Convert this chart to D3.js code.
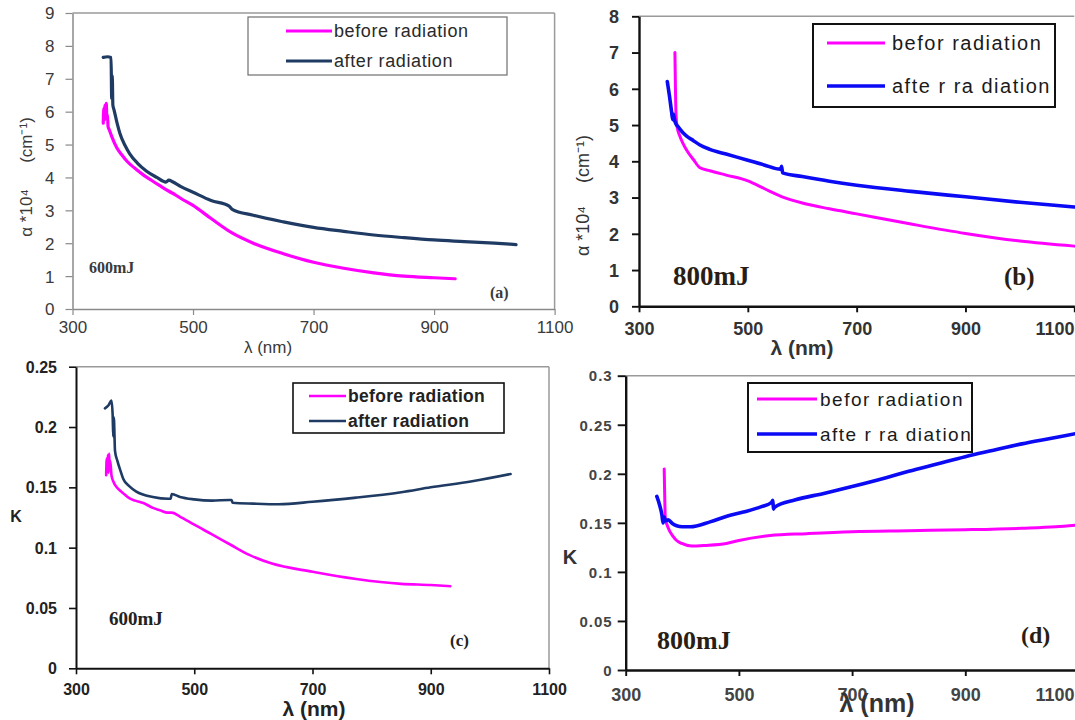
<!DOCTYPE html>
<html>
<head>
<meta charset="utf-8">
<script src="https://cdn.jsdelivr.net/npm/d3@7/dist/d3.min.js"></script>
<style>
  body { margin: 0; background: #fff; }
  svg { display: block; }
</style>
</head>
<body>
<svg id="chart" width="1075" height="720"></svg>
<script>
// ---- Axis ticks ----
const wavelengthTicks = [300, 500, 700, 900, 1100];
const alphaTicks600 = [0, 1, 2, 3, 4, 5, 6, 7, 8, 9];
const alphaTicks800 = [0, 1, 2, 3, 4, 5, 6, 7, 8];
const kTicks600 = [0, 0.05, 0.1, 0.15, 0.2, 0.25];
const kTicks800 = [0, 0.05, 0.1, 0.15, 0.2, 0.25, 0.3];

// ---- Absorption coefficient α (×10⁴ cm⁻¹) vs λ (nm), 600 mJ ----
const alphaBefore600 = [
  [351, 5.65], [352, 6.1], [353, 5.75], [354, 6.2], [355, 5.8], [356, 6.25], [357, 5.85],
  [358, 5.9], [359, 5.55], [361, 5.45], [365, 5.25], [373, 4.92], [382, 4.68], [390, 4.5],
  [404, 4.27], [418, 4.07], [432, 3.9], [445, 3.75], [460, 3.58], [470, 3.48], [480, 3.36],
  [500, 3.15], [530, 2.75], [564, 2.32], [600, 2.0], [650, 1.68], [700, 1.42], [750, 1.24],
  [800, 1.1], [850, 1.0], [900, 0.95], [935, 0.92]
];
const alphaAfter600 = [
  [351, 7.65], [358, 7.67], [364, 7.65], [365, 6.4], [366, 7.1], [367, 6.2], [369, 6.05],
  [374, 5.65], [379, 5.32], [387, 4.98], [395, 4.72], [408, 4.43], [423, 4.19], [440, 4.0],
  [455, 3.86], [460, 3.92], [466, 3.87], [480, 3.72], [500, 3.55], [530, 3.3], [560, 3.13],
  [565, 3.03], [600, 2.85], [650, 2.65], [700, 2.48], [750, 2.36], [800, 2.25], [850, 2.17],
  [900, 2.1], [950, 2.05], [1000, 2.0], [1036, 1.96]
];

// ---- Absorption coefficient α, 800 mJ ----
const alphaBefore800 = [
  [366, 7.0], [367, 6.0], [368, 5.3], [370, 4.95], [375, 4.7], [381, 4.49], [390, 4.25],
  [400, 4.05], [412, 3.82], [430, 3.74], [460, 3.62], [500, 3.46], [530, 3.25], [563, 3.02],
  [600, 2.85], [650, 2.69], [700, 2.55], [800, 2.27], [900, 2.01], [1000, 1.8], [1100, 1.66]
];
const alphaAfter800 = [
  [352, 6.2], [356, 5.8], [360, 5.35], [362, 5.15], [363, 5.3], [366, 5.1], [372, 4.95],
  [380, 4.8], [387, 4.7], [400, 4.57], [412, 4.45], [430, 4.33], [460, 4.2], [500, 4.03],
  [530, 3.9], [560, 3.78], [562, 3.86], [564, 3.68], [600, 3.58], [650, 3.45], [700, 3.34],
  [800, 3.17], [900, 3.02], [1000, 2.87], [1100, 2.74]
];

// ---- Extinction coefficient K vs λ (nm), 600 mJ ----
const kBefore600 = [
  [351, 0.16], [352, 0.174], [353, 0.163], [354, 0.177], [355, 0.162], [356, 0.178],
  [357, 0.166], [358, 0.172], [360, 0.16], [363, 0.155], [366, 0.152], [371, 0.149],
  [380, 0.145], [390, 0.141], [400, 0.139], [414, 0.137], [430, 0.133], [442, 0.131],
  [455, 0.129], [462, 0.129], [475, 0.126], [500, 0.119], [530, 0.111], [563, 0.102],
  [593, 0.094], [630, 0.087], [700, 0.080], [774, 0.074], [850, 0.070], [900, 0.069],
  [933, 0.068]
];
const kAfter600 = [
  [349, 0.2155], [355, 0.218], [360, 0.222], [362, 0.21], [363, 0.192], [364, 0.208],
  [366, 0.18], [370, 0.172], [375, 0.164], [380, 0.157], [390, 0.151], [402, 0.1465],
  [430, 0.142], [456, 0.1405], [460, 0.1405], [462, 0.1445], [476, 0.142], [500, 0.140],
  [530, 0.139], [560, 0.1395], [563, 0.1395], [565, 0.1372], [600, 0.1365], [643, 0.136],
  [700, 0.138], [774, 0.1415], [850, 0.146], [900, 0.150], [970, 0.155], [1035, 0.161]
];

// ---- Extinction coefficient K, 800 mJ ----
const kBefore800 = [
  [368, 0.205], [369, 0.175], [370, 0.155], [375, 0.145], [384, 0.136], [390, 0.132],
  [399, 0.129], [416, 0.1264], [440, 0.127], [478, 0.129], [500, 0.132], [555, 0.137],
  [620, 0.139], [700, 0.141], [800, 0.142], [900, 0.143], [1000, 0.1445], [1060, 0.146],
  [1100, 0.148]
];
const kAfter800 = [
  [355, 0.177], [360, 0.168], [364, 0.158], [366, 0.150], [368, 0.156], [370, 0.152],
  [375, 0.153], [383, 0.149], [390, 0.147], [400, 0.146], [414, 0.146], [449, 0.151],
  [480, 0.157], [508, 0.161], [540, 0.1665], [558, 0.171], [560, 0.173], [561, 0.164],
  [563, 0.166], [600, 0.1735], [650, 0.180], [700, 0.187], [760, 0.196], [800, 0.2025],
  [850, 0.210], [900, 0.2175], [950, 0.224], [1000, 0.2305], [1050, 0.236], [1100, 0.2415]
];

const MAGENTA = "#ff00ff";
const NAVY = "#1f3b63";
const BLUE = "#0a0af5";
const SANS = "'Liberation Sans', Arial, sans-serif";
const SERIF = "'Liberation Serif', 'Times New Roman', serif";
const PAGE_WIDTH = 1075;

const svg = d3.select("#chart");

function addText(g, t, family) {
  const el = g.append("text").attr("fill", t.color).attr("dy", "0.35em")
    .attr("text-anchor", t.anchor || "middle")
    .style("font-family", family).style("font-size", t.font + "px")
    .style("font-weight", t.weight || "normal")
    .style("letter-spacing", (t.spacing || 0) + "px");
  if (t.rotate) el.attr("transform", `translate(${t.x},${t.y}) rotate(-90)`);
  else el.attr("x", t.x).attr("y", t.y);
  el.text(t.text);
  return el;
}

function drawPanel(p) {
  const g = svg.append("g");
  const x = d3.scaleLinear().domain([300, 1100]).range([p.left, p.right]);
  const y = d3.scaleLinear().domain([0, p.yMax]).range([p.bottom, p.top]);

  // plot-area frame (top and right edges)
  g.append("line").attr("x1", p.left).attr("x2", p.right)
    .attr("y1", p.top).attr("y2", p.top)
    .attr("stroke", "#9a9a9a").attr("stroke-width", 1.5);
  if (p.rightFrame) {
    g.append("line").attr("x1", p.right).attr("x2", p.right)
      .attr("y1", p.top).attr("y2", p.bottom)
      .attr("stroke", "#9a9a9a").attr("stroke-width", 1.5);
  }

  // axes
  const xa = g.append("g").attr("transform", `translate(0,${p.bottom})`)
    .call(d3.axisBottom(x).tickValues(wavelengthTicks).tickSize(6).tickSizeOuter(0)
      .tickFormat(d => String(d)));
  const ya = g.append("g").attr("transform", `translate(${p.left},0)`)
    .call(d3.axisLeft(y).tickValues(p.yTicks).tickSize(p.yTickSize || 7).tickSizeOuter(0)
      .tickFormat(d => String(d)));

  [xa, ya].forEach(a => {
    a.select(".domain").attr("stroke", p.axisColor).attr("stroke-width", p.axisWidth);
    a.selectAll(".tick line").attr("stroke", p.axisColor).attr("stroke-width", p.axisWidth * 0.8);
    a.selectAll("text").attr("fill", p.tickColor).style("font-family", SANS)
      .style("font-weight", p.tickWeight);
  });
  xa.selectAll("text").attr("y", p.xLabelOffset).attr("dy", "0.35em")
    .style("font-size", p.xTickFont + "px");
  // keep the last wavelength label inside the page when the axis runs to its edge
  if (p.clampLastLabel) {
    xa.selectAll(".tick").filter(d => d === 1100).select("text")
      .attr("text-anchor", "end").attr("x", PAGE_WIDTH - 1 - x(1100));
  }
  ya.selectAll("text").attr("x", -p.yLabelOffset).attr("dy", "0.35em")
    .style("font-size", p.yTickFont + "px").style("letter-spacing", (p.yTickSpacing || 0) + "px");

  // data lines
  const line = d3.line().x(d => x(d[0])).y(d => y(d[1])).curve(d3.curveMonotoneX);
  p.series.forEach(s => {
    g.append("path").datum(s.data).attr("d", line)
      .attr("fill", "none").attr("stroke", s.color)
      .attr("stroke-width", s.width).attr("stroke-linejoin", "round").attr("stroke-linecap", "round");
  });

  // legend
  const L = p.legend;
  g.append("rect").attr("x", L.x).attr("y", L.y).attr("width", L.w).attr("height", L.h)
    .attr("fill", "#fff").attr("stroke", L.border).attr("stroke-width", L.borderWidth);
  p.series.forEach((s, i) => {
    const ry = L.rows[i];
    g.append("line").attr("x1", L.lineX1).attr("x2", L.lineX2).attr("y1", ry).attr("y2", ry)
      .attr("stroke", s.color).attr("stroke-width", s.width);
    addText(g, { text: s.name, x: L.textX, y: ry, anchor: "start", color: L.color,
      font: L.font, weight: L.weight, spacing: L.spacing }, SANS);
  });

  // axis titles
  p.titles.forEach(t => addText(g, t, SANS));
  // energy and panel tags
  p.tags.forEach(t => addText(g, Object.assign({ anchor: "start", weight: "bold" }, t), SERIF));
}

// (a) α, 600 mJ
drawPanel({
  left: 72.5, right: 554.6, top: 13, bottom: 309, yMax: 9, yTicks: alphaTicks600,
  rightFrame: true, axisColor: "#8a8a8a", axisWidth: 1.5,
  tickColor: "#3a3a3a", tickWeight: "normal", xTickFont: 17, yTickFont: 17,
  xLabelOffset: 18, yLabelOffset: 18,
  series: [
    { name: "before radiation", data: alphaBefore600, color: MAGENTA, width: 3.2 },
    { name: "after radiation", data: alphaAfter600, color: NAVY, width: 3.2 }
  ],
  legend: { x: 248, y: 17, w: 259, h: 58, border: "#6f6f6f", borderWidth: 1.2,
    rows: [31, 61], lineX1: 286, lineX2: 332, textX: 334, font: 18, weight: "normal",
    spacing: 0.6, color: "#2a2a2a" },
  titles: [
    { text: "α *10⁴", x: 26, y: 213, font: 17, color: "#3a3a3a", rotate: true },
    { text: "(cm⁻¹)", x: 26, y: 140, font: 17, color: "#3a3a3a", rotate: true },
    { text: "λ  (nm)", x: 268, y: 347, font: 17, color: "#3a3a3a" }
  ],
  tags: [
    { text: "600mJ", x: 89, y: 267, font: 16, color: "#3a3a3a" },
    { text: "(a)", x: 490, y: 292, font: 16, color: "#3a3a3a" }
  ]
});

// (b) α, 800 mJ
drawPanel({
  left: 639, right: 1074.3, top: 16.3, bottom: 306.3, yMax: 8, yTicks: alphaTicks800,
  rightFrame: false, clampLastLabel: true, axisColor: "#111", axisWidth: 2.4,
  tickColor: "#333", tickWeight: "bold", xTickFont: 18, yTickFont: 18,
  xLabelOffset: 22, yLabelOffset: 20,
  series: [
    { name: "befor radiation", data: alphaBefore800, color: MAGENTA, width: 3 },
    { name: "afte r ra diation", data: alphaAfter800, color: BLUE, width: 3.6 }
  ],
  legend: { x: 813, y: 24, w: 242, h: 83, border: "#111", borderWidth: 2,
    rows: [43, 86], lineX1: 827, lineX2: 885, textX: 892, font: 20, weight: "normal",
    spacing: 1.5, color: "#1a1a1a" },
  titles: [
    { text: "α *10⁴", x: 583, y: 231, font: 18, color: "#333", rotate: true },
    { text: "(cm⁻¹)", x: 583, y: 159, font: 18, color: "#333", rotate: true },
    { text: "λ  (nm)", x: 802, y: 348, font: 21, weight: "bold", color: "#333" }
  ],
  tags: [
    { text: "800mJ", x: 673, y: 276, font: 27, color: "#2a1e14" },
    { text: "(b)", x: 1004, y: 276, font: 25, color: "#2a1e14" }
  ]
});

// (c) K, 600 mJ
drawPanel({
  left: 76, right: 549, top: 366.7, bottom: 668.3, yMax: 0.25, yTicks: kTicks600,
  rightFrame: true, axisColor: "#111", axisWidth: 2,
  tickColor: "#222", tickWeight: "bold", xTickFont: 16, yTickFont: 16,
  xLabelOffset: 21, yLabelOffset: 19,
  series: [
    { name: "before radiation", data: kBefore600, color: MAGENTA, width: 2.6 },
    { name: "after radiation", data: kAfter600, color: NAVY, width: 2.6 }
  ],
  legend: { x: 293, y: 383, w: 211, h: 50, border: "#111", borderWidth: 1.6,
    rows: [396, 421], lineX1: 309, lineX2: 346, textX: 348, font: 17.5, weight: "bold",
    spacing: 0.3, color: "#222" },
  titles: [
    { text: "K", x: 16, y: 516, font: 16, weight: "bold", color: "#222" },
    { text: "λ  (nm)", x: 314, y: 709, font: 21, weight: "bold", color: "#222" }
  ],
  tags: [
    { text: "600mJ", x: 109, y: 618, font: 19, color: "#222" },
    { text: "(c)", x: 450, y: 640, font: 17, color: "#222" }
  ]
});

// (d) K, 800 mJ
drawPanel({
  left: 625.7, right: 1078.5, top: 375.7, bottom: 670, yMax: 0.3, yTicks: kTicks800,
  rightFrame: false, clampLastLabel: true, axisColor: "#111", axisWidth: 2.4, yTickSize: 8,
  tickColor: "#444", tickWeight: "bold", xTickFont: 18, yTickFont: 15, yTickSpacing: 1,
  xLabelOffset: 25, yLabelOffset: 13,
  series: [
    { name: "befor radiation", data: kBefore800, color: MAGENTA, width: 3 },
    { name: "afte r ra diation", data: kAfter800, color: BLUE, width: 3.6 }
  ],
  legend: { x: 748, y: 383, w: 224, h: 69, border: "#111", borderWidth: 2,
    rows: [399, 434], lineX1: 757, lineX2: 817, textX: 820, font: 19, weight: "normal",
    spacing: 1.5, color: "#1a1a1a" },
  titles: [
    { text: "K", x: 570, y: 557, font: 20, weight: "bold", color: "#333" },
    { text: "λ  (nm)", x: 877, y: 703, font: 25, weight: "bold", color: "#333" }
  ],
  tags: [
    { text: "800mJ", x: 657, y: 640, font: 26, color: "#2a1e14" },
    { text: "(d)", x: 1021, y: 635, font: 24, color: "#2a1e14" }
  ]
});
</script>
</body>
</html>
